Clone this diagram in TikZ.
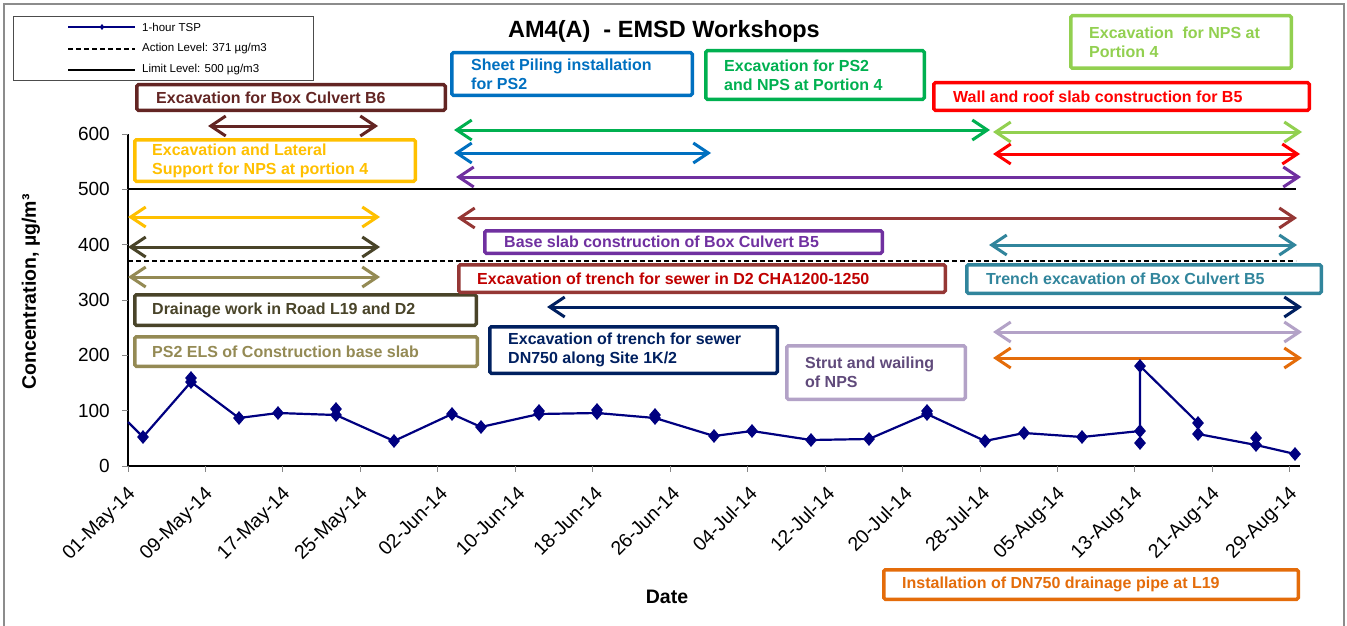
\documentclass[tikz,border=0pt]{standalone}
\usepackage{fontspec}
\setmainfont{Liberation Sans}
\usetikzlibrary{arrows.meta,shapes.geometric}
\definecolor{cMaroon}{HTML}{632523}
\definecolor{cGold}{HTML}{FFC000}
\definecolor{cOlive}{HTML}{494429}
\definecolor{cKhaki}{HTML}{948A54}
\definecolor{cBlue}{HTML}{0070C0}
\definecolor{cGreen}{HTML}{00B050}
\definecolor{cLGreen}{HTML}{92D050}
\definecolor{cRed}{HTML}{FF0000}
\definecolor{cPurple}{HTML}{7030A0}
\definecolor{cBrown}{HTML}{953735}
\definecolor{cDarkRed}{HTML}{C00000}
\definecolor{cTeal}{HTML}{31859C}
\definecolor{cNavy}{HTML}{002060}
\definecolor{cLav}{HTML}{B3A2C7}
\definecolor{cLavText}{HTML}{604A7B}
\definecolor{cOrange}{HTML}{E46C0A}
\definecolor{cSeries}{HTML}{000080}
\definecolor{cFrame}{HTML}{8C8C8C}
\definecolor{cTick}{HTML}{868686}
\begin{document}
\begin{tikzpicture}[x=1pt,y=-1pt,
  tbox/.style={draw=#1, line width=3.5pt, rounded corners=1.5pt, fill=white, inner sep=0pt},
  ttext/.style={text=#1, font=\bfseries\fontsize{16}{19}\selectfont, anchor=west, align=left, inner sep=0pt},
  span/.style={draw=#1, line width=3pt, {Straight Barb[length=15pt,width=20pt]}-{Straight Barb[length=15pt,width=20pt]}},
  mk/.style={diamond, fill=cSeries, minimum width=12pt, minimum height=14pt, inner sep=0pt},
  mksmall/.style={diamond, fill=cSeries, minimum width=5pt, minimum height=6pt, inner sep=0pt},
  series/.style={draw=cSeries, line width=2.2pt, line join=round},
  tickline/.style={draw=cTick, line width=1pt},
  numlab/.style={font=\fontsize{19}{21}\selectfont, anchor=east, inner sep=0pt},
  datelab/.style={font=\fontsize{19.5}{21}\selectfont, anchor=north east, inner sep=0pt},
  leglab/.style={font=\fontsize{11.5}{13}\selectfont, anchor=west, inner sep=0pt},
  axtitle/.style={font=\bfseries\fontsize{19.5}{22}\selectfont, inner sep=0pt}
]
\useasboundingbox (0,0) rectangle (1347,626);
\fill[white] (0,0) rectangle (1347,626);
% outer frame
\draw[cFrame, line width=1.5pt] (4,626) -- (4,4) -- (1344,4) -- (1344,626);

% legend
\draw[black!70, line width=0.8pt] (13,16) rectangle (313,80);
\coordinate (lg1a) at (68,27); \coordinate (lg1b) at (135,27);
\coordinate (lg2a) at (68,49); \coordinate (lg2b) at (135,49);
\coordinate (lg3a) at (68,70); \coordinate (lg3b) at (135,70);
\draw[series] (lg1a) -- (lg1b);
\node[mksmall] (lgm) at (102,27) {};
\draw[black, line width=1.8pt, dash pattern=on 5pt off 3pt] (lg2a) -- (lg2b);
\draw[black, line width=1.8pt] (lg3a) -- (lg3b);
\node[leglab] (lt1) at (142,27) {1-hour TSP};
\node[leglab] (lt2) at (142,49) {Action Level: 371 µg/m3};
\node[leglab] (lt3) at (142,70) {Limit Level: 500 µg/m3};

% title
\node[font=\bfseries\fontsize{23.5}{27}\selectfont, inner sep=0pt] (title) at (664,31) {AM4(A) \ - EMSD Workshops};

% axes
\draw[black, line width=1.5pt] (128,134) -- (128,466) -- (1300,466);
\foreach \v in {0,100,...,600} {
  \draw[tickline] (122,{466-0.5533*\v}) -- (128,{466-0.5533*\v});
  \node[numlab] (yl\v) at (110,{466-0.5533*\v}) {\v};
}
\foreach \i/\lab in {0/01-May-14,1/09-May-14,2/17-May-14,3/25-May-14,4/02-Jun-14,5/10-Jun-14,6/18-Jun-14,7/26-Jun-14,8/04-Jul-14,9/12-Jul-14,10/20-Jul-14,11/28-Jul-14,12/05-Aug-14,13/13-Aug-14,14/21-Aug-14,15/29-Aug-14} {
  \draw[tickline] ({128+77.46*\i},466) -- ({128+77.46*\i},472);
  \node[datelab] (dl\i) at ({139+77.46*\i},485) {\rotatebox{45}{\lab}};
}
\node[axtitle, rotate=90] (ytitle) at (31,292) {Concentration, µg/m³};
\node[axtitle] (xtitle) at (667,597) {Date};

% limit and action levels
\coordinate (limA) at (128,189.35); \coordinate (limB) at (1296,189.35);
\coordinate (actA) at (128,260.7); \coordinate (actB) at (1296,260.7);
\draw[black, line width=2pt] (limA) -- (limB);
\draw[black, line width=1.8pt, dash pattern=on 5pt off 3pt] (actA) -- (actB);

% activity spans
\coordinate (a1l) at (208,126); \coordinate (a1r) at (378,126);
\coordinate (a2l) at (128,217); \coordinate (a2r) at (380,217);
\coordinate (a3l) at (128,247); \coordinate (a3r) at (380,247);
\coordinate (a4l) at (128,277); \coordinate (a4r) at (380,277);
\coordinate (a5l) at (454,153); \coordinate (a5r) at (711,153);
\coordinate (a6l) at (454,130); \coordinate (a6r) at (990,130);
\coordinate (a7l) at (993,132); \coordinate (a7r) at (1302,132);
\coordinate (a8l) at (993,154); \coordinate (a8r) at (1300,154);
\coordinate (a9l) at (456,177); \coordinate (a9r) at (1301,177);
\coordinate (a10l) at (457,218); \coordinate (a10r) at (1297,218);
\coordinate (a11l) at (989,245); \coordinate (a11r) at (1297,245);
\coordinate (a12l) at (547,307); \coordinate (a12r) at (1302,307);
\coordinate (a13l) at (993,332); \coordinate (a13r) at (1302,332);
\coordinate (a14l) at (993,358); \coordinate (a14r) at (1302,358);
\draw[span=cMaroon] (a1l) -- (a1r);
\draw[span=cGold] (a2l) -- (a2r);
\draw[span=cOlive] (a3l) -- (a3r);
\draw[span=cKhaki] (a4l) -- (a4r);
\draw[span=cBlue] (a5l) -- (a5r);
\draw[span=cGreen] (a6l) -- (a6r);
\draw[span=cLGreen] (a7l) -- (a7r);
\draw[span=cRed] (a8l) -- (a8r);
\draw[span=cPurple] (a9l) -- (a9r);
\draw[span=cBrown] (a10l) -- (a10r);
\draw[span=cTeal] (a11l) -- (a11r);
\draw[span=cNavy] (a12l) -- (a12r);
\draw[span=cLav] (a13l) -- (a13r);
\draw[span=cOrange] (a14l) -- (a14r);

% activity boxes
\node[tbox=cMaroon, minimum width=308.5pt, minimum height=25.5pt] (bB6) at (291,97.5) {};
\node[ttext=cMaroon] (tB6) at ([xshift=21pt]bB6.west) {Excavation for Box Culvert B6};
\node[tbox=cGold, minimum width=280.5pt, minimum height=41.5pt] (bGold) at (275,160.5) {};
\node[ttext=cGold] (tGold) at ([xshift=19pt]bGold.west) {Excavation and Lateral\\Support for NPS at portion 4};
\node[tbox=cOlive, minimum width=341.5pt, minimum height=30.5pt] (bOlive) at (305.5,310) {};
\node[ttext=cOlive] (tOlive) at ([xshift=19pt]bOlive.west) {Drainage work in Road L19 and D2};
\node[tbox=cKhaki, minimum width=342.5pt, minimum height=29.5pt] (bKhaki) at (306,351.5) {};
\node[ttext=cKhaki] (tKhaki) at ([xshift=19pt]bKhaki.west) {PS2 ELS of Construction base slab};
\node[tbox=cBlue, minimum width=240.5pt, minimum height=42.5pt] (bBlue) at (572,74) {};
\node[ttext=cBlue] (tBlue) at ([xshift=21pt]bBlue.west) {Sheet Piling installation\\for PS2};
\node[tbox=cGreen, minimum width=218.5pt, minimum height=48.5pt] (bGreen) at (815,75) {};
\node[ttext=cGreen] (tGreen) at ([xshift=20pt]bGreen.west) {Excavation for PS2\\and NPS at Portion 4};
\node[tbox=cLGreen, minimum width=220.5pt, minimum height=52.5pt] (bLGreen) at (1181,42) {};
\node[ttext=cLGreen] (tLGreen) at ([xshift=20pt]bLGreen.west) {Excavation \ for NPS at\\Portion 4};
\node[tbox=cRed, minimum width=375.5pt, minimum height=27.5pt] (bRed) at (1121.5,96.5) {};
\node[ttext=cRed] (tRed) at ([xshift=21pt]bRed.west) {Wall and roof slab construction for B5};
\node[tbox=cPurple, minimum width=397.5pt, minimum height=22.5pt] (bPurple) at (683.5,242) {};
\node[ttext=cPurple] (tPurple) at ([xshift=21pt]bPurple.west) {Base slab construction of Box Culvert B5};
\node[tbox=cBrown, minimum width=486.5pt, minimum height=27.5pt] (bBrown) at (702,278.5) {};
\node[ttext=cDarkRed] (tBrown) at ([xshift=20pt]bBrown.west) {Excavation of trench for sewer in D2 CHA1200-1250};
\node[tbox=cTeal, minimum width=354.5pt, minimum height=28.5pt] (bTeal) at (1144,279) {};
\node[ttext=cTeal] (tTeal) at ([xshift=21pt]bTeal.west) {Trench excavation of Box Culvert B5};
\node[tbox=cNavy, minimum width=287.5pt, minimum height=46.5pt] (bNavy) at (633.5,350) {};
\node[ttext=cNavy] (tNavy) at ([xshift=20pt]bNavy.west) {Excavation of trench for sewer\\DN750 along Site 1K/2};
\node[tbox=cLav, minimum width=178.5pt, minimum height=53.5pt] (bLav) at (876,372.5) {};
\node[ttext=cLavText] (tLav) at ([xshift=20pt]bLav.west) {Strut and wailing\\of NPS};
\node[tbox=cOrange, minimum width=414.5pt, minimum height=29.5pt] (bOrange) at (1091,584.5) {};
\node[ttext=cOrange] (tOrange) at ([xshift=20pt]bOrange.west) {Installation of DN750 drainage pipe at L19};

% data series
\coordinate (p0) at (128,422);
\coordinate (p1) at (143,437);
\coordinate (p2) at (191,382);
\coordinate (p2b) at (191,378);
\coordinate (p3) at (239,418);
\coordinate (p4) at (278,413);
\coordinate (p5) at (336,415);
\coordinate (p5b) at (336,409);
\coordinate (p6) at (394,441);
\coordinate (p7) at (452,414);
\coordinate (p8) at (481,427);
\coordinate (p9) at (539,414);
\coordinate (p9b) at (539,411);
\coordinate (p10) at (597,413);
\coordinate (p10b) at (597,410);
\coordinate (p11) at (655,418);
\coordinate (p11b) at (655,415);
\coordinate (p12) at (714,436);
\coordinate (p13) at (752,431);
\coordinate (p14) at (811,440);
\coordinate (p15) at (869,439);
\coordinate (p16) at (927,414);
\coordinate (p16b) at (927,411);
\coordinate (p17) at (985,441);
\coordinate (p18) at (1024,433);
\coordinate (p19) at (1082,437);
\coordinate (p20) at (1140,431);
\coordinate (p20b) at (1140,443);
\coordinate (p21) at (1140,366);
\coordinate (p22) at (1198,423);
\coordinate (p23) at (1198,434);
\coordinate (p24) at (1256,438);
\coordinate (p25) at (1256,445);
\coordinate (p26) at (1295,454);
\draw[series] (p0) -- (p1) -- (p2) -- (p3) -- (p4) -- (p5) -- (p6) -- (p7) -- (p8) -- (p9) -- (p10) -- (p11) -- (p12) -- (p13) -- (p14) -- (p15) -- (p16) -- (p17) -- (p18) -- (p19) -- (p20) -- (p21) -- (p22) -- (p23) -- (p25) -- (p26);
\foreach \p in {p1,p2,p2b,p3,p4,p5,p5b,p6,p7,p8,p9,p9b,p10,p10b,p11,p11b,p12,p13,p14,p15,p16,p16b,p17,p18,p19,p20,p20b,p21,p22,p23,p24,p25,p26} {
  \node[mk] (m\p) at (\p) {};
}
\end{tikzpicture}
\end{document}
